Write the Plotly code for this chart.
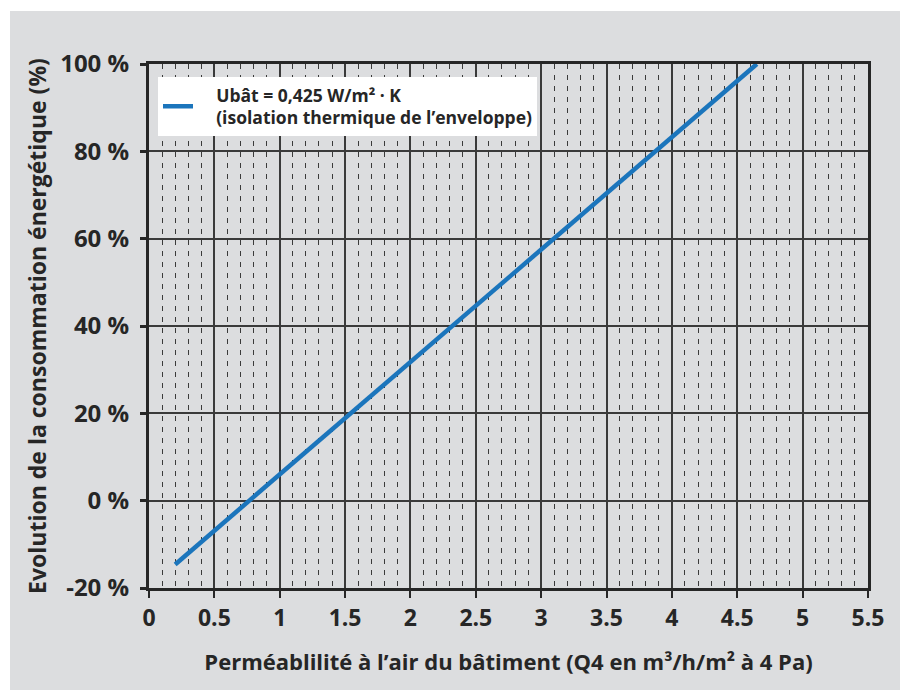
import plotly.graph_objects as go

# Data
permeabilite = [0.2, 4.65]          # Q4 (m3/h/m2 at 4 Pa)
evolution = [-14.6, 100.0]          # % change in energy consumption
x_ticks = [0, 0.5, 1, 1.5, 2, 2.5, 3, 3.5, 4, 4.5, 5, 5.5]
x_tick_labels = ["0", "0.5", "1", "1.5", "2", "2.5", "3", "3.5", "4", "4.5", "5", "5.5"]
y_ticks = [-20, 0, 20, 40, 60, 80, 100]
y_tick_labels = ["-20 %", "0 %", "20 %", "40 %", "60 %", "80 %", "100 %"]
PAD = "\u00a0" * 4
series_name = PAD + "Ubât = 0,425 W/m² · K<br>" + PAD + "(isolation thermique de l’enveloppe)"

# page has an 8px body margin, so the figure is 8px smaller than the window
W, H = 900, 682
ML, MR, MT, MB = 141, 40, 56, 102
PW, PH = W - ML - MR, H - MT - MB

GRAY = "#dcdddf"
DARK = "#262626"
FONT = "Open Sans"

fig = go.Figure()
fig.add_trace(go.Scatter(
    x=permeabilite, y=evolution, mode="lines", name=series_name,
    line=dict(color="#1b75bc", width=4.5),
))

fig.update_layout(
    width=W, height=H, autosize=False,
    margin=dict(l=ML, r=MR, t=MT, b=MB),
    paper_bgcolor="white", plot_bgcolor=GRAY,
    font=dict(family=FONT, color=DARK),
    showlegend=True,
    legend=dict(
        x=(150 - ML) / PW, y=1 - (69 - MT) / PH, xanchor="left", yanchor="top",
        bgcolor="white", borderwidth=0, itemwidth=30,
        font=dict(family=FONT, size=17.5, color=DARK, weight="bold"),
        tracegroupgap=0,
    ),
    shapes=[dict(
        type="rect", xref="paper", yref="paper", layer="below",
        x0=-(ML - 2) / PW, x1=1 + MR / PW, y0=-MB / PH, y1=1 + (MT - 3) / PH,
        fillcolor=GRAY, line=dict(width=0),
    )],
)

fig.update_xaxes(
    range=[0, 5.5], tickvals=x_ticks, ticktext=x_tick_labels,
    showline=True, linecolor=DARK, linewidth=3, mirror=True,
    ticks="outside", ticklen=7, tickwidth=2, tickcolor=DARK,
    showgrid=True, gridcolor="#3a3a3a", gridwidth=2,
    zeroline=False,
    minor=dict(dtick=0.1, tick0=0, showgrid=True, gridcolor="#3a3a3a",
               gridwidth=1, griddash="5px,6px", ticks=""),
    tickfont=dict(family=FONT, size=23, color=DARK, weight="bold"),
    title=dict(text="Perméablilité à l’air du bâtiment (Q4 en m³/h/m² à 4 Pa)",
               font=dict(family=FONT, size=22, color=DARK, weight="bold"),
               standoff=24),
)
fig.update_yaxes(
    range=[-20, 100], tickvals=y_ticks, ticktext=y_tick_labels,
    showline=True, linecolor=DARK, linewidth=3, mirror=True,
    ticks="outside", ticklen=6, tickwidth=3, tickcolor=DARK,
    ticklabelstandoff=6,
    showgrid=True, gridcolor="#3a3a3a", gridwidth=2,
    zeroline=False,
    tickfont=dict(family=FONT, size=24, color=DARK, weight="bold"),
    title=dict(text="Evolution de la consommation énergétique (%)",
               font=dict(family=FONT, size=23, color=DARK, weight="bold"),
               standoff=8),
)

fig.write_html("out.html")
